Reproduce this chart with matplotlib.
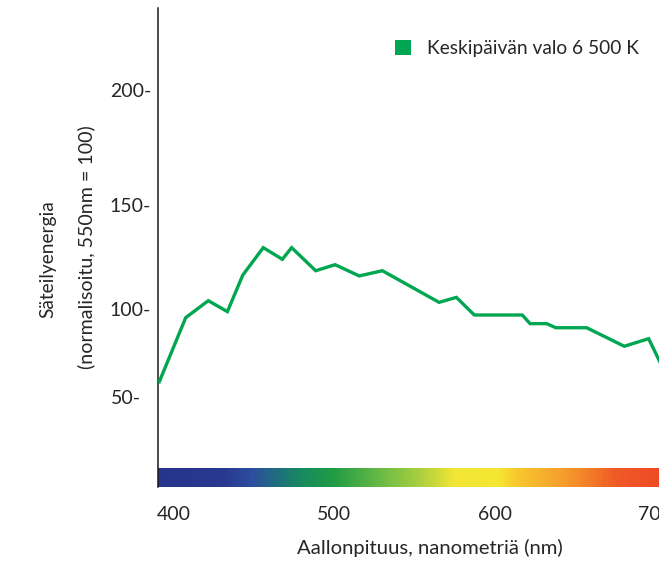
import numpy as np
import matplotlib
matplotlib.use("Agg")
import matplotlib.pyplot as plt
from matplotlib.colors import LinearSegmentedColormap
from matplotlib.patches import Patch
from matplotlib.transforms import ScaledTranslation

# ---- data ----
wavelength = [390.8, 407.3, 421.4, 433.3, 442.9, 455.7, 467.6, 473.4, 488.4,
              500.5, 515.6, 530.0, 565.4, 576.2, 587.4, 617.3, 622.2, 632.6,
              638.2, 657.5, 681.0, 696.2, 703.5]
energy = [58.8, 95.1, 104.0, 98.5, 116.3, 129.5, 123.9, 129.5, 118.4,
          121.3, 115.9, 118.4, 103.2, 105.6, 96.6, 96.6, 91.7, 91.7,
          89.4, 89.4, 78.9, 83.2, 69.5]
series_label = "Keskipäivän valo 6 500 K"
x_ticks = [400, 500, 600, 700]
x_tick_labels = ["400", "500", "600", "700"]
y_ticks = [200, 150, 100, 50]
y_tick_labels = ["200-", "150-", "100-", "50-"]

# spectrum strip colours (wavelength stops)
spec_nm = [390, 430, 448, 463, 479, 499, 530, 553, 575, 603, 614, 645, 676, 712]
spec_col = ["#27348b", "#28378f", "#2d4d9e", "#1f6c80", "#178a5e", "#1f9b45",
            "#6cbb45", "#a8cf3f", "#f2e534", "#f4e632", "#f8c82f", "#f59a2b",
            "#ef5a26", "#ee4525"]

# ---- non-uniform y scale of the original artwork ----
Y_VALS = [0, 50, 100, 150, 200, 236]
Y_POS = [0, 89.7, 178, 282, 397, 479]
fwd = lambda v: np.interp(v, Y_VALS, Y_POS)
inv = lambda p: np.interp(p, Y_POS, Y_VALS)

W, H = 659, 561
fig = plt.figure(figsize=(W / 100, H / 100), dpi=100)
plt.rcParams['font.family'] = ['Lato', 'DejaVu Sans']

ax_left = 158 / W
ax_bottom = (H - 487) / H
ax_h = 479 / H
ax_w = (174 + 310 * 1.6025 - 158) / W
ax = fig.add_axes([ax_left, ax_bottom, ax_w, ax_h])
ax.set_yscale('function', functions=(fwd, inv))
ax.set_xlim(390, 710)
ax.set_ylim(0, 236)

# spectrum strip
lo, hi = spec_nm[0], spec_nm[-1]
cmap = LinearSegmentedColormap.from_list(
    "spec", [((n - lo) / (hi - lo), c) for n, c in zip(spec_nm, spec_col)])
xe = np.linspace(lo, hi, 400)
xc = (xe[:-1] + xe[1:]) / 2
ax.pcolormesh(xe, [0, 10.6], xc[None, :], cmap=cmap, vmin=lo, vmax=hi,
              shading='flat', zorder=1)

green = "#00a650"
ax.plot(wavelength, energy, color=green, lw=2.4, solid_joinstyle='miter',
        zorder=3, clip_on=True)

for s in ['top', 'right', 'bottom']:
    ax.spines[s].set_visible(False)
ax.spines['left'].set_linewidth(1.1)
ax.spines['left'].set_color('#1a1a1a')

ax.set_xticks(x_ticks)
ax.set_xticklabels(x_tick_labels)
ax.set_yticks(y_ticks)
ax.set_yticklabels(y_tick_labels)
ax.yaxis.set_minor_locator(matplotlib.ticker.NullLocator())
ax.tick_params(axis='both', length=0, labelsize=14, colors='#262626')
ax.tick_params(axis='x', pad=14)
ax.tick_params(axis='y', pad=5)
for lab in ax.get_yticklabels():
    if lab.get_text() == "50-":
        lab.set_transform(lab.get_transform() +
                          ScaledTranslation(-10 / 100, 0, fig.dpi_scale_trans))

# axis labels
tc = '#262626'
fs = 13.8
fig.text(48 / W, (H - 259) / H, "Säteilyenergia", rotation=90,
         ha='center', va='center', fontsize=fs, color=tc)
fig.text(86 / W, (H - 247) / H, "(normalisoitu, 550nm = 100)", rotation=90,
         ha='center', va='center', fontsize=14.1, color=tc)
fig.text(430 / W, (H - 548) / H, "Aallonpituus, nanometriä (nm)",
         ha='center', va='center', fontsize=14.6, color=tc)

# legend
handle = Patch(facecolor="#00a651", edgecolor="none", label=series_label)
fig.legend(handles=[handle], loc='upper left',
           bbox_to_anchor=(395 / W, (H - 40) / H), frameon=False,
           fontsize=fs, handlelength=0.85, handleheight=0.85,
           handletextpad=0.8, borderpad=0, borderaxespad=0, labelcolor=tc)

fig.savefig("out.png", dpi=100)
